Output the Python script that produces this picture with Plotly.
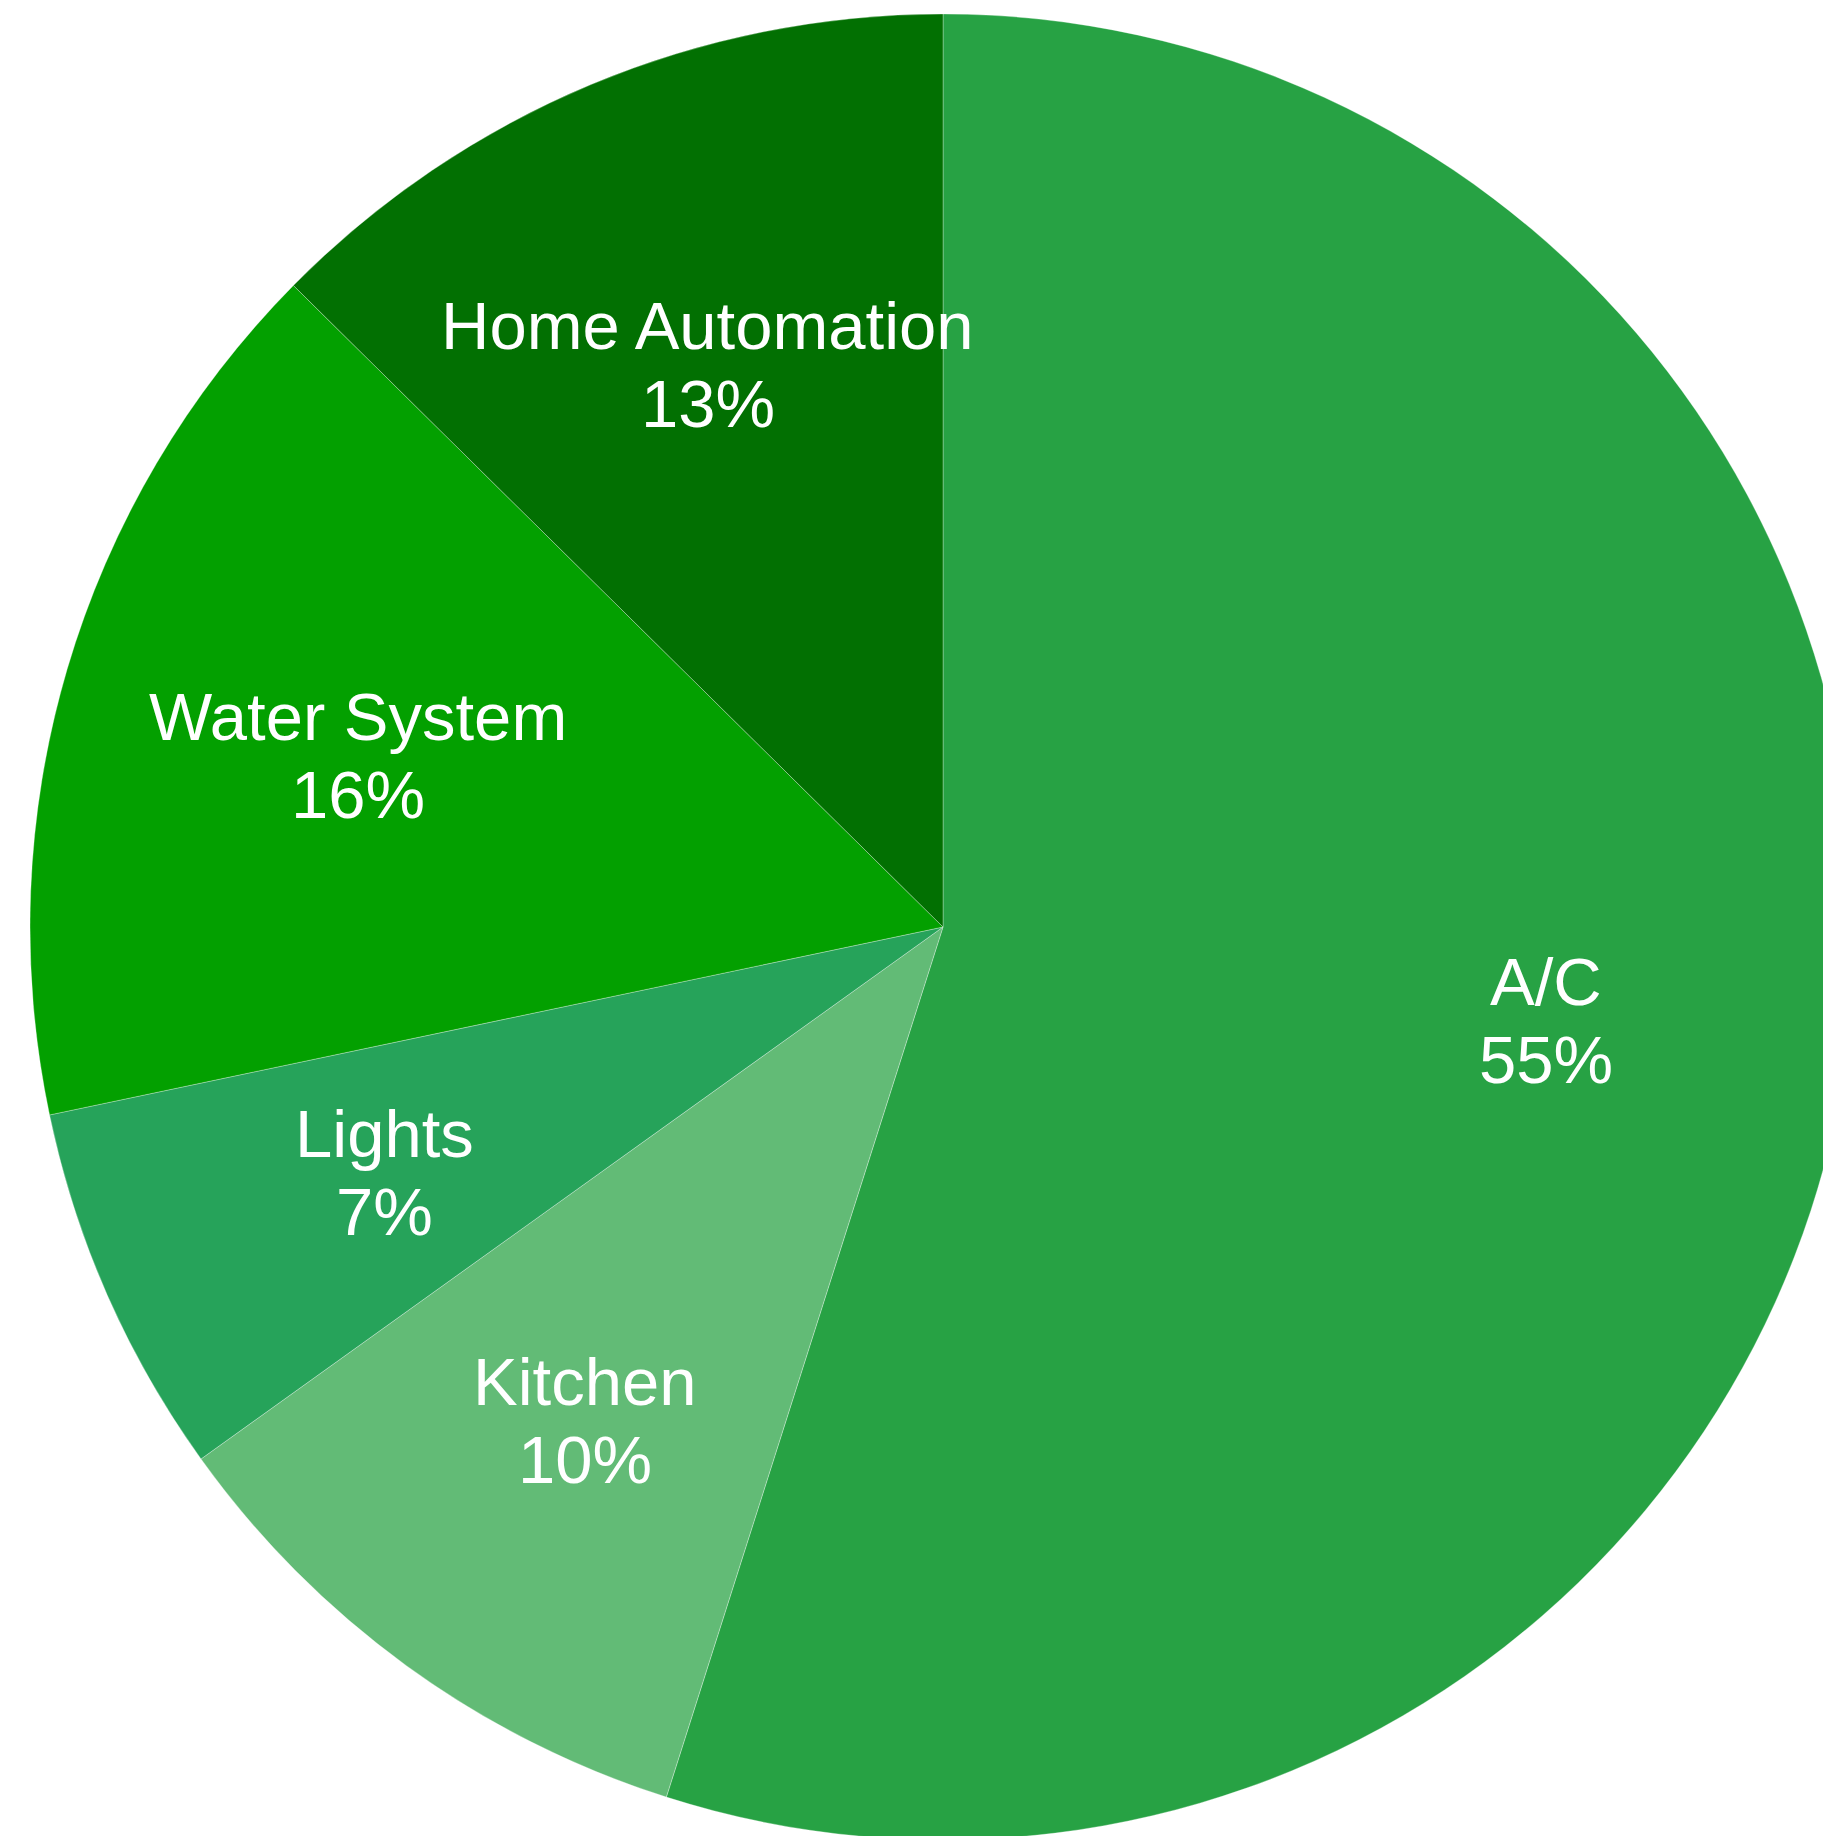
import math
import plotly.graph_objects as go

# ---- data ----
categories = ["A/C", "Kitchen", "Lights", "Water System", "Home Automation"]
values = [54.9, 10.2, 6.6, 15.7, 12.6]
colors = ["#27a244", "#62bb76", "#26a35a", "#03a000", "#027002"]

# ---- layout geometry (pixels) ----
W, H = 1886, 1854
TOP, BOTTOM = 14, 1840          # vertical extent of the pie domain (px from top)
R = (BOTTOM - TOP) / 2
CX, CY = W / 2, (TOP + BOTTOM) / 2
LABEL_R = 0.668 * R
LINE_GAP = 39
FONT = dict(family="Liberation Sans, Arial, Helvetica, sans-serif", size=67, color="white")

fig = go.Figure(go.Pie(
    labels=categories,
    values=values,
    sort=False,
    direction="clockwise",
    rotation=0,
    marker=dict(colors=colors, line=dict(color="rgba(255,255,255,0.3)", width=1)),
    textinfo="none",
    hoverinfo="label+percent",
    domain=dict(x=[0, 1], y=[(H - BOTTOM) / H, (H - TOP) / H]),
    showlegend=False,
))

total = sum(values)
cum = 0.0
annotations = []
for name, v in zip(categories, values):
    theta = 2 * math.pi * (cum + v / 2) / total
    cum += v
    px = CX + LABEL_R * math.sin(theta)
    py = CY - LABEL_R * math.cos(theta)
    pct = f"{round(v / total * 100)}%"
    for txt, dy in ((name, -LINE_GAP), (pct, LINE_GAP)):
        annotations.append(dict(
            x=px / W, y=1 - (py + dy) / H, xref="paper", yref="paper",
            text=txt, showarrow=False, xanchor="center", yanchor="middle",
            font=FONT,
        ))

fig.update_layout(
    width=W, height=H,
    margin=dict(l=0, r=0, t=0, b=0, pad=0),
    paper_bgcolor="white", plot_bgcolor="white",
    annotations=annotations,
)

fig.write_html(
    "out.html",
    post_script="document.body.style.margin='0';document.body.style.overflow='hidden';"
                "document.documentElement.style.overflow='hidden';",
)
